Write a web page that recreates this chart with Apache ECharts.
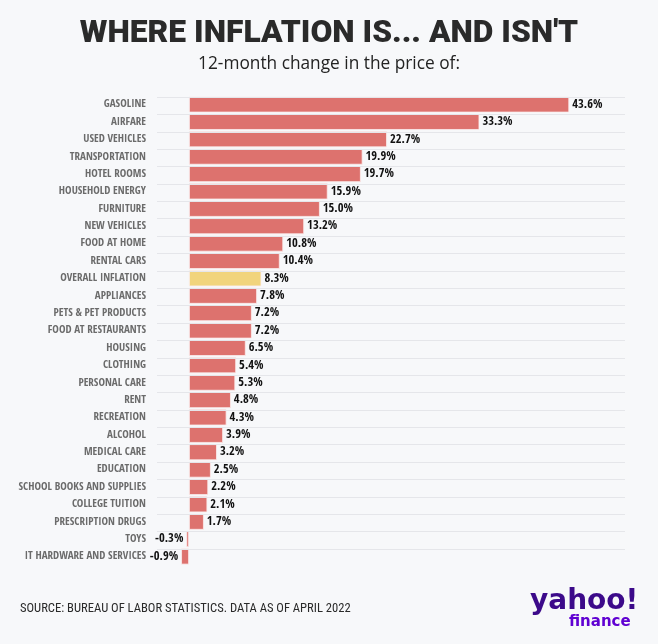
<!DOCTYPE html>
<html>
<head>
<meta charset="utf-8">
<script src="https://cdn.jsdelivr.net/npm/echarts@6/dist/echarts.min.js"></script>
<style>
html,body{margin:0;padding:0;background:#f7f8fa;}
#chart{width:658px;height:644px;}
</style>
</head>
<body>
<div id="chart"></div>
<script>
const categories = ['GASOLINE','AIRFARE','USED VEHICLES','TRANSPORTATION','HOTEL ROOMS','HOUSEHOLD ENERGY','FURNITURE','NEW VEHICLES','FOOD AT HOME','RENTAL CARS','OVERALL INFLATION','APPLIANCES','PETS & PET PRODUCTS','FOOD AT RESTAURANTS','HOUSING','CLOTHING','PERSONAL CARE','RENT','RECREATION','ALCOHOL','MEDICAL CARE','EDUCATION','SCHOOL BOOKS AND SUPPLIES','COLLEGE TUITION','PRESCRIPTION DRUGS','TOYS','IT HARDWARE AND SERVICES'];
const changes = [43.6,33.3,22.7,19.9,19.7,15.9,15.0,13.2,10.8,10.4,8.3,7.8,7.2,7.2,6.5,5.4,5.3,4.8,4.3,3.9,3.2,2.5,2.2,2.1,1.7,-0.3,-0.9];
const highlight = 'OVERALL INFLATION';

const titleText = "WHERE INFLATION IS... AND ISN'T";
const subtitleText = '12-month change in the price of:';
const sourceText = 'SOURCE: BUREAU OF LABOR STATISTICS. DATA AS OF APRIL 2022';

const BAR = '#dd726e';
const HL = '#f1d47c';
const COND = '"Open Sans Condensed", "Roboto Condensed", sans-serif';

const chart = echarts.init(document.getElementById('chart'), null, {renderer:'canvas'});

const barData = changes.map((v, i) => ({
  value: v,
  itemStyle: { color: categories[i] === highlight ? HL : BAR },
  label: { position: v < 0 ? 'left' : 'right' }
}));

chart.setOption({
  backgroundColor: '#f7f8fa',
  animation: false,
  title: [
    { text: titleText, left: 'center', top: 13,
      textStyle: { fontFamily: 'Roboto, sans-serif', fontWeight: 900, fontSize: 31.8, color: '#2a2a2a' } },
    { text: subtitleText, left: 'center', top: 51,
      textStyle: { fontFamily: '"Open Sans", sans-serif', fontWeight: 'normal', fontSize: 17.3, color: '#222' } }
  ],
  grid: { left: 157, right: 33, top: 95.8, bottom: 78.8, containLabel: false, outerBoundsMode: 'none' },
  xAxis: { type: 'value', min: -3.67, max: 50, show: false },
  yAxis: {
    type: 'category', data: categories, inverse: true,
    axisLine: { show: false }, axisTick: { show: false }, splitLine: { show: false },
    axisLabel: { margin: 11, fontFamily: COND, fontWeight: 'bold', fontSize: 11, color: '#6b6b6b' }
  },
  series: [
    {
      type: 'bar', data: [], z: 1, silent: true,
      markLine: {
        silent: true, symbol: 'none', animation: false,
        label: { show: false },
        lineStyle: { color: '#e5e6ea', width: 1, type: 'solid' },
        data: categories.map(c => ({ yAxis: c }))
      }
    },
    {
      type: 'bar', data: barData, barWidth: 16, z: 3, barGap: '-100%',
      itemStyle: { borderColor: '#fbeeee', borderWidth: 0.8 },
      label: {
        show: true, distance: 3,
        fontFamily: COND, fontWeight: 'bold', fontSize: 12.5, color: '#111',
        formatter: p => p.value.toFixed(1) + '%'
      }
    }
  ],
  graphic: [
    { type: 'text', left: 20, top: 602,
      style: { text: sourceText, fontFamily: '"Roboto Condensed", sans-serif', fontSize: 12.6, fill: '#2a2a2a' } },
    { type: 'text', left: 530, top: 588,
      style: { text: 'yahoo!', fontFamily: '"DejaVu Sans", sans-serif', fontWeight: 'bold', fontSize: 28, fill: '#3c0a8a' } },
    { type: 'text', left: 569, top: 615,
      style: { text: 'finance', fontFamily: '"DejaVu Sans", sans-serif', fontWeight: 'bold', fontSize: 15, fill: '#6001d2' } }
  ]
});
</script>
</body>
</html>
